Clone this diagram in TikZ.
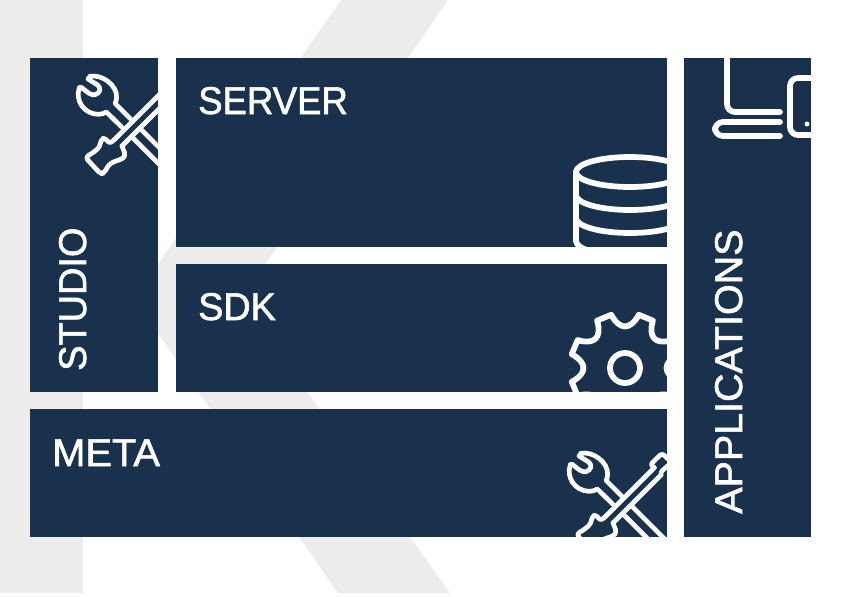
\documentclass[tikz,border=0pt]{standalone}
\usepackage{fontspec}
\setmainfont{Liberation Sans}[FakeBold=1.6]
\definecolor{navy}{HTML}{19314D}
\definecolor{greyk}{HTML}{EDECEA}
\tikzset{
 panel/.style={fill=navy,draw=none},
 lbl/.style={text=white,font=\fontsize{29}{29}\selectfont,inner sep=0pt,anchor=base west},
 ico/.style={draw=white,line width=4.3pt,line join=round,line cap=round},
 icothin/.style={ico,line width=3.5pt},
}
% tool icon in zoom coordinates of the STUDIO panel
\newcommand{\toolicon}{%
 \draw[icothin] (90,79) .. controls (125,72) and (172,105) .. (170,143) .. controls (169,152) and (167,158) .. (165,160) -- (218,213);
 \draw[icothin] (58,113) .. controls (45,150) and (70,192) .. (115,193) .. controls (125,193) and (133,190) .. (139,186) -- (185,231);
 \draw[icothin] (90,79) -- (84,87) -- (113,105) .. controls (125,115) and (120,130) .. (105,134) .. controls (95,136) and (88,132) .. (64,112) -- (58,113);
 \draw[icothin] (240,235) -- (400,395);
 \draw[icothin] (215,260) -- (360,405);
 % screwdriver
 \draw[icothin] (164,268) -- (310,122);
 \draw[icothin] (186,288) -- (330,144);
 \draw[icothin,rounded corners=2.5pt] (164,268) -- (148,282) -- (135,262) -- (122,270) -- (120,290) -- (102,306) -- (76,322) -- (122,372) -- (134,368) -- (145,345) -- (165,333) -- (186,328) -- (197,316) -- (186,288);
 \draw[icothin,rounded corners=2pt] (310,122) -- (298,113) -- (333,79) -- (362,106) -- (328,136) -- (330,144);
}
\begin{document}
\begin{tikzpicture}[x=1pt,y=-1pt,xscale=.75,yscale=.75]
\useasboundingbox (0,0) rectangle (842,596);
\fill[white] (0,0) rectangle (842,596);
\fill[greyk] (0,0) rectangle (83,593);
\fill[greyk] (341,0) -- (448,0) -- (241,299) -- (450,593) -- (338,593) -- (134,299) -- cycle;
\path[panel] (30,58) rectangle (158,392);
\path[panel] (176,58) rectangle (667,247);
\path[panel] (176,264) rectangle (667,392);
\path[panel] (30,409) rectangle (667,537);
\path[panel] (684,58) rectangle (811,537);
\node[lbl,xscale=.945] (server) at (198,114) {SERVER};
\node[lbl,xscale=.975] (sdk) at (198,320) {SDK};
\node[lbl,xscale=1.03] (meta) at (52,466) {META};
\node[lbl,rotate=90,xscale=.98] (studio) at (86,371) {STUDIO};
\node[lbl,rotate=90,xscale=1.02] (apps) at (742,514) {APPLICATIONS};
% tools, STUDIO
\begin{scope}
 \clip (30,58) rectangle (158,392);
 \begin{scope}[shift={(60,50)},scale=.3333]
  \toolicon
 \end{scope}
\end{scope}
% tools, META
\begin{scope}
 \clip (30,409) rectangle (667,537);
 \begin{scope}[shift={(551,427)},scale=.3333]
  \toolicon
 \end{scope}
\end{scope}
% database
\begin{scope}
 \clip (176,58) rectangle (667,247);
 \draw[ico] (630,172) ellipse [x radius=54,y radius=15];
 \draw[ico] (576,172) -- (576,241);
 \foreach \yy in {195,218,241}
  \draw[ico] (576,\yy) arc [start angle=180,end angle=0,x radius=54,y radius=15];
\end{scope}
% gear
\begin{scope}
 \clip (176,264) rectangle (667,392);
 \begin{scope}[shift={(625,368)}]
  \draw[ico] (0,0) circle [radius=15];
  \draw[ico] (14.5:55) \foreach \a in {0,45,...,315} {
    -- ({\a+30.5}:55) .. controls ({\a+37}:38) and ({\a+53}:38) .. ({\a+59.5}:55)
   } -- cycle;
 \end{scope}
\end{scope}
% laptop and tablet
\begin{scope}
 \clip (684,58) rectangle (811,537);
 \draw[ico,rounded corners=6pt] (727,50) -- (727,112) -- (780,112);
 \draw[ico,rounded corners=6pt] (780,122) -- (715,122) -- (715,136) -- (780,136);
 \draw[ico,rounded corners=6pt] (830,78) -- (790,78) -- (790,135) -- (830,135);
 \fill[white] (807,124) circle [radius=2.5];
\end{scope}
\end{tikzpicture}
\end{document}
